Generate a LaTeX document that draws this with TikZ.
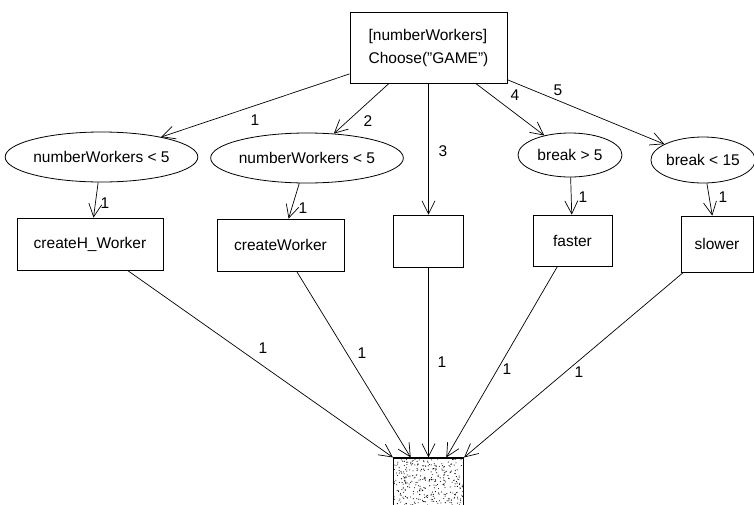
\documentclass[tikz,border=0pt]{standalone}
\usepackage{fontspec}
\setmainfont{Liberation Sans}
\usetikzlibrary{arrows.meta,calc,shapes.geometric}
\begin{document}
\begin{tikzpicture}[x=1pt,y=-1pt,
  every node/.style={font=\fontsize{15.5}{23}\selectfont},
  box/.style={draw, line width=0.8pt, rectangle, inner sep=0pt},
  oval/.style={draw, line width=0.8pt, ellipse, inner sep=0pt},
  lab/.style={inner sep=0pt},
  shelf/.style={line width=1.6pt},
  conn/.style={line width=0.7pt, -{Straight Barb[length=13pt,width=13pt,line width=0.7pt]}}
]
\useasboundingbox (0,0) rectangle (754,504);
\clip (0,0) rectangle (754,504);

% top decision box
\node[box, minimum width=157pt, minimum height=71pt, align=left] (top) at (428.5,47.5) {[numberWorkers]\\Choose("GAME")};

% guards
\node[oval, minimum width=177pt, minimum height=50pt] (e1) at (101.5,157) {numberWorkers < 5};
\node[oval, minimum width=180pt, minimum height=50pt] (e2) at (307,158) {numberWorkers < 5};
\node[oval, minimum width=104pt, minimum height=44pt] (e4) at (570,155) {break > 5};
\node[oval, minimum width=102pt, minimum height=46pt] (e5) at (703,160) {break < 15};

% actions
\node[box, minimum width=146pt, minimum height=52pt] (b1) at (90,244) {createH\_Worker};
\node[box, minimum width=127pt, minimum height=52pt] (b2) at (280.5,245) {createWorker};
\node[box, minimum width=70pt, minimum height=52pt] (b3) at (428.5,241) {};
\node[box, minimum width=79pt, minimum height=51pt] (b4) at (572.5,240.5) {faster};
\node[box, minimum width=72pt, minimum height=56pt] (b5) at (717,244) {slower};
\foreach \b in {b1,b2,b3,b4,b5}{
  \draw[shelf] (\b.south west) -- (\b.south east);
}

% merge box
\node[box, line width=1.2pt, minimum width=70pt, minimum height=72pt] (bot) at (428.5,494) {};
\begin{scope}
  \clip (bot.north west) rectangle (bot.south east);
  \pgfmathsetseed{7}
  \foreach \i in {1,...,320}{
    \fill ({394+69*rnd},{459+46*rnd}) circle[radius=0.55pt];
  }
\end{scope}
\draw[shelf] (bot.north west) -- (bot.north east);
\coordinate (p1) at (bot.north west);
\coordinate (p2) at ($(bot.north west)!0.25!(bot.north east)$);
\coordinate (p3) at (bot.north);
\coordinate (p4) at ($(bot.north west)!0.75!(bot.north east)$);
\coordinate (p5) at (bot.north east);

% edges from the decision
\draw[conn] (top) -- (e1);
\draw[conn] (top) -- (e2);
\draw[conn] (top.south) -- (b3.north);
\draw[conn] (top) -- (e4);
\draw[conn] (top) -- (e5);
\node[lab] (l1) at (255,120) {1};
\node[lab] (l2) at (368,121) {2};
\node[lab] (l3) at (443,151) {3};
\node[lab] (l4) at (515,95) {4};
\node[lab] (l5) at (558,90) {5};

% guard to action
\draw[conn] (e1) -- (b1);
\draw[conn] (e2) -- (b2);
\draw[conn] (e4) -- (b4);
\draw[conn] (e5) -- (b5);
\node[lab] (m1) at (105,203) {1};
\node[lab] (m2) at (303,208) {1};
\node[lab] (m4) at (583,197) {1};
\node[lab] (m5) at (723,197) {1};

% actions to merge
\draw[conn] (b1) -- (p1);
\draw[conn] (b2) -- (p2);
\draw[conn] (b3) -- (p3);
\draw[conn] (b4) -- (p4);
\draw[conn] (b5) -- (p5);
\node[lab] (n1) at (263,348) {1};
\node[lab] (n2) at (362,353) {1};
\node[lab] (n3) at (442,362) {1};
\node[lab] (n4) at (507,369) {1};
\node[lab] (n5) at (579,372) {1};
\end{tikzpicture}
\end{document}
